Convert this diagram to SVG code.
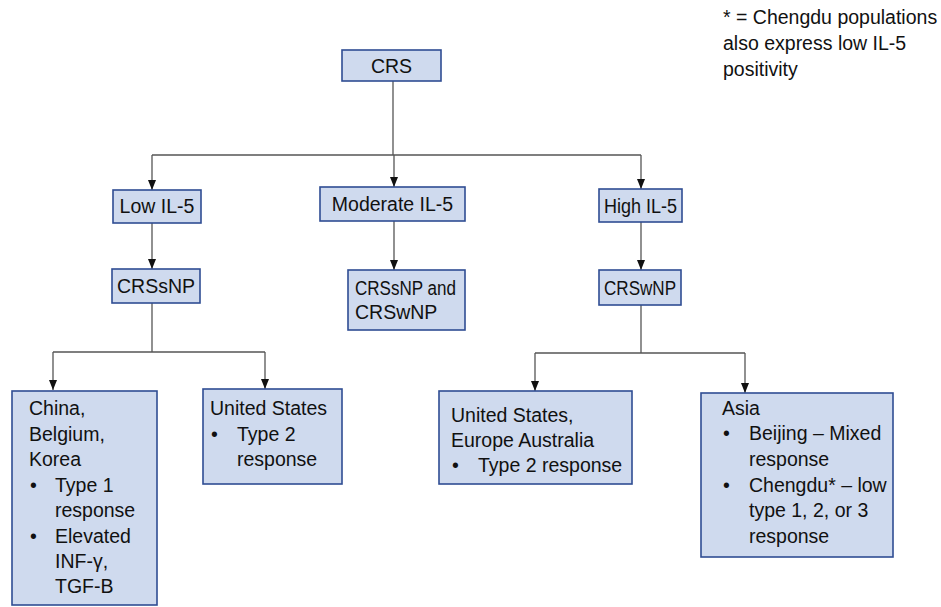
<svg xmlns="http://www.w3.org/2000/svg" width="941" height="607" viewBox="0 0 941 607">
<style>
.box{fill:#cfdaee;stroke:#2f4d93;stroke-width:1.6}
.t{font-family:"Liberation Sans",Arial,sans-serif;font-size:19.5px;fill:#111}
.c{text-anchor:middle}
.ln{fill:none;stroke:#555;stroke-width:1.3}
</style>
<defs>
<marker id="ah" markerUnits="userSpaceOnUse" markerWidth="10" markerHeight="10" viewBox="0 0 10 10" refX="10" refY="5" orient="auto">
<path d="M0,1 L10,5 L0,9 Z" fill="#111"/>
</marker>
</defs>
<rect width="941" height="607" fill="#fff"/>
<g id="connectors">
<path class="ln" d="M393,81 V155"/>
<path class="ln" d="M152,155 H641"/>
<path class="ln" d="M152,155 V190" marker-end="url(#ah)"/>
<path class="ln" d="M394,155 V187" marker-end="url(#ah)"/>
<path class="ln" d="M641,155 V189" marker-end="url(#ah)"/>
<path class="ln" d="M152,223 V269" marker-end="url(#ah)"/>
<path class="ln" d="M394,221 V270" marker-end="url(#ah)"/>
<path class="ln" d="M641,222 V270" marker-end="url(#ah)"/>
<path class="ln" d="M152,303 V352"/>
<path class="ln" d="M53,352 H265"/>
<path class="ln" d="M53,352 V390" marker-end="url(#ah)"/>
<path class="ln" d="M265,352 V389" marker-end="url(#ah)"/>
<path class="ln" d="M641,305 V353"/>
<path class="ln" d="M535,353 H745"/>
<path class="ln" d="M535,353 V391" marker-end="url(#ah)"/>
<path class="ln" d="M745,353 V393" marker-end="url(#ah)"/>
</g>
<g id="crs">
<rect class="box" x="342" y="50" width="99" height="31"/>
<text class="t c" x="391.5" y="72.5">CRS</text>
</g>
<g id="low">
<rect class="box" x="113" y="190" width="88" height="33"/>
<text class="t c" x="157" y="213">Low IL-5</text>
</g>
<g id="moderate">
<rect class="box" x="320" y="187" width="145" height="34"/>
<text class="t c" x="392.5" y="211">Moderate IL-5</text>
</g>
<g id="high">
<rect class="box" x="599" y="189" width="83" height="33"/>
<text class="t c" x="640.5" y="212.5" textLength="73" lengthAdjust="spacingAndGlyphs">High IL-5</text>
</g>
<g id="crssnp">
<rect class="box" x="112" y="269" width="88" height="34"/>
<text class="t c" x="156" y="293">CRSsNP</text>
</g>
<g id="both">
<rect class="box" x="348" y="270" width="117" height="60"/>
<text class="t" x="355" y="295" textLength="101" lengthAdjust="spacingAndGlyphs">CRSsNP and</text>
<text class="t" x="355" y="319">CRSwNP</text>
</g>
<g id="crswnp">
<rect class="box" x="599" y="270" width="82" height="35"/>
<text class="t c" x="640" y="294.5" textLength="72" lengthAdjust="spacingAndGlyphs">CRSwNP</text>
</g>
<g id="china">
<rect class="box" x="12" y="391" width="145" height="214"/>
<text class="t" x="29" y="415">China,</text>
<text class="t" x="29" y="441">Belgium,</text>
<text class="t" x="29" y="466">Korea</text>
<text class="t" x="30" y="492">•</text>
<text class="t" x="55" y="492">Type 1</text>
<text class="t" x="55" y="517">response</text>
<text class="t" x="30" y="543">•</text>
<text class="t" x="55" y="543">Elevated</text>
<text class="t" x="55" y="568">INF-γ,</text>
<text class="t" x="55" y="593">TGF-B</text>
</g>
<g id="us">
<rect class="box" x="203" y="389" width="139" height="95"/>
<text class="t" x="210" y="415">United States</text>
<text class="t" x="211" y="441">•</text>
<text class="t" x="237" y="441">Type 2</text>
<text class="t" x="237" y="466">response</text>
</g>
<g id="useu">
<rect class="box" x="439" y="391" width="193" height="93"/>
<text class="t" x="451" y="422">United States,</text>
<text class="t" x="451" y="447">Europe Australia</text>
<text class="t" x="452" y="472">•</text>
<text class="t" x="478" y="472">Type 2 response</text>
</g>
<g id="asia">
<rect class="box" x="701" y="393" width="192" height="164"/>
<text class="t" x="722" y="415">Asia</text>
<text class="t" x="723" y="440">•</text>
<text class="t" x="749" y="440">Beijing – Mixed</text>
<text class="t" x="749" y="466">response</text>
<text class="t" x="723" y="492">•</text>
<text class="t" x="749" y="492">Chengdu* – low</text>
<text class="t" x="749" y="517">type 1, 2, or 3</text>
<text class="t" x="749" y="543">response</text>
</g>
<g id="note">
<text class="t" x="723" y="24">* = Chengdu populations</text>
<text class="t" x="723" y="50">also express low IL-5</text>
<text class="t" x="723" y="76">positivity</text>
</g>
</svg>
